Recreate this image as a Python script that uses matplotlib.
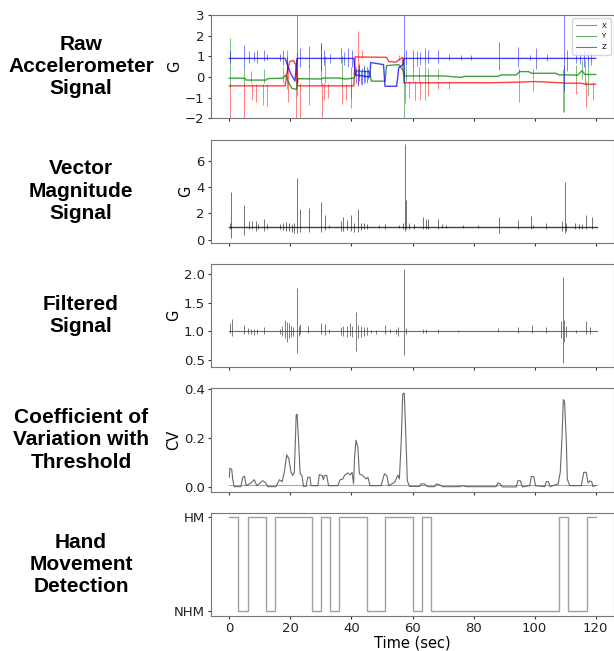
import numpy as np
from matplotlib import pyplot as plt

# ---- raw accelerometer: slow baseline knots (sec, G) per axis ----
X_T = [0, 18.3, 19.0, 19.8, 21.0, 21.8, 22.3, 40.8, 41.2, 51.5, 52.2, 54.5, 55.8, 56.8, 57.2,
       85, 95, 100, 108.5, 110.5, 115, 117, 120]
X_V = [-0.43, -0.43, 0.3, 0.75, 0.8, 0.6, -0.43, -0.43, 0.97, 0.95, 0.75, 0.72, 0.85, 0.95, -0.28,
       -0.28, -0.25, -0.22, -0.28, -0.3, -0.3, -0.35, -0.35]

Y_T = [0, 5, 5.5, 12, 12.5, 17.5, 18.5, 19.5, 20.5, 22, 22.5, 30, 31, 36, 38, 41, 41.5, 46, 46.5,
       51, 51.5, 55.5, 57, 57.3, 70, 76, 77, 88, 89, 94, 95, 98, 99, 107, 108, 112, 114, 115.5,
       116.5, 120]
Y_V = [-0.06, -0.06, -0.15, -0.15, -0.08, -0.06, 0.1, -0.3, -0.55, -0.6, -0.08, -0.1, -0.05, -0.05,
       -0.1, -0.05, 0.3, 0.25, -0.2, -0.2, 0.55, 0.6, 0.3, 0.05, 0.05, -0.02, 0.03, 0.03, 0.1, 0.1,
       0.26, 0.26, 0.18, 0.18, 0.1, 0.1, 0.08, 0.3, 0.12, 0.12]

Z_T = [0, 18.3, 19.0, 20.0, 21.5, 22.2, 40.8, 41.3, 46, 46.3, 50.5, 51, 54.8, 55.5, 56.9, 57.2, 120]
Z_V = [0.9, 0.9, 0.6, 0.2, -0.2, 0.9, 0.9, 0.1, 0.0, 0.7, 0.6, -0.45, -0.45, 0.45, 0.6, 0.9, 0.9]

# ---- raw accelerometer: spikes (time, low, high) ----
X_SPK_T = [0.2, 4.7, 7.4, 8.7, 11.1, 12.2, 19.2, 22.0, 23.3, 26.0, 30.3, 31.1, 32.3, 36.9, 38.3,
           39.9, 42.0, 43.5, 55.5, 57.7, 59.0, 60.7, 62.3, 64.0, 65.0, 68.3, 72.0, 95.0, 99.5,
           109.3, 113.5, 116.7, 119.1]
X_SPK_LO = [-2, -2, -1.1, -1.2, -1.35, -1.4, -1.2, -2, -2, -1.35, -2, -1.1, -1.0, -1.3, -1.1,
            -1.5, -0.43, 0.9, 0.8, -1.25, -1.0, -1.1, -1.1, -1.1, -0.9, -0.6, -0.6, -1.2, -0.7,
            -1.7, -0.8, -1.45, -1.1]
X_SPK_HI = [-0.3, -0.3, -0.35, -0.35, -0.35, -0.35, 0.5, 0.9, -0.3, -0.3, -0.3, -0.3, -0.35, -0.35,
            -0.35, -0.35, 2.24, 1.3, 1.05, -0.2, -0.2, -0.2, -0.2, -0.2, -0.2, -0.2, -0.2, -0.15,
            -0.15, 0.4, -0.2, -0.2, -0.25]

Y_SPK_T = [0.3, 4.7, 7.0, 11.5, 17.5, 18.8, 22.1, 26.0, 30.0, 31.5, 37.0, 39.9, 42.5, 44.0,
           57.3, 58.0, 60.0, 62.0, 64.0, 65.0, 68.3, 95.0, 99.5, 109.5, 113.5, 115.5, 116.5,
           117.5]
Y_SPK_LO = [-0.5, -0.4, -0.3, -0.3, -0.3, -0.6, -0.9, -0.3, -0.4, -0.3, -0.4, -1.0, 0.0, 0.0,
            -2.0, -0.2, -0.2, -0.2, -0.2, -0.2, -0.1, -0.1, -0.1, -1.7, -0.2, -0.1, -0.4, -0.9]
Y_SPK_HI = [1.87, 0.4, 0.3, 0.4, 0.5, 1.3, 1.2, 0.6, 1.63, 1.0, 1.0, 0.5, 0.7, 0.6,
            0.7, 0.55, 0.55, 0.5, 0.55, 0.45, 0.4, 0.45, 0.4, 0.6, 0.6, 0.82, 0.8, 0.5]

Z_SPK_T = [0.2, 4.7, 6.5, 8.0, 9.0, 11.5, 12.3, 16.5, 17.5, 19.0, 22.1, 23.3, 26.0, 30.0, 31.1,
           33.0, 36.5, 37.5, 39.0, 40.2, 41.5, 42.0, 42.5, 43.0, 43.5, 44.0, 44.5, 45.0, 45.5,
           57.2, 58.0, 60.0, 61.5, 62.5, 64.0, 65.0, 68.3, 72.0, 76.0, 79.0, 88.3, 94.5, 98.5,
           100.3, 104.0, 109.5, 110.5, 113.7, 115.0, 116.3, 117.5, 118.5]
Z_SPK_LO = [0.66, 0.4, 0.7, 0.75, 0.7, 0.75, 0.8, 0.75, 0.6, 0.2, -0.3, 0.5, 0.5, 0.3, 0.6,
            0.7, 0.7, 0.6, 0.5, 0.5, -0.3, -0.4, -0.2, -0.35, -0.4, -0.3, -0.25, -0.3, -0.1,
            -0.3, 0.6, 0.5, 0.55, 0.6, 0.6, 0.7, 0.7, 0.8, 0.8, 0.8, 0.35, 0.5, 0.8,
            0.4, 0.75, -0.7, 0.3, 0.7, 0.65, 0.5, 0.5, 0.6]
Z_SPK_HI = [1.3, 1.55, 1.25, 1.2, 1.3, 1.3, 1.1, 1.1, 1.3, 1.0, 3.0, 1.4, 1.5, 1.63, 1.3,
            1.1, 1.4, 1.2, 1.4, 1.3, 0.5, 0.4, 0.6, 0.3, 0.45, 0.5, 0.35, 0.5, 0.4,
            3.0, 1.3, 1.3, 1.25, 1.2, 1.4, 1.3, 1.3, 1.1, 1.05, 1.05, 1.7, 1.45, 1.05,
            1.4, 1.1, 3.0, 1.3, 1.3, 1.25, 1.3, 1.3, 1.2]

# ---- vector magnitude: spikes around 1 G ----
VM_T = [0.1, 0.5, 4.7, 6.5, 7.5, 8.7, 9.5, 11.5, 12.3, 16.5, 17.5, 18.5, 19.5, 20.5, 21.3, 22.1,
        23.3, 26.0, 30.0, 31.4, 32.5, 36.5, 37.1, 38.5, 39.9, 40.8, 42.0, 43.0, 44.0, 45.0, 49.0,
        51.0, 55.5, 56.8, 57.4, 57.9, 59.0, 60.5, 63.5, 64.3, 65.0, 68.3, 69.5, 71.0, 76.5, 81.5,
        88.2, 94.5, 98.9, 99.5, 103.8, 109.0, 109.8, 110.4, 113.3, 114.5, 115.5, 116.7, 118.8]
VM_LO = [0.8, 0.13, 0.4, 0.8, 0.8, 0.7, 0.8, 0.7, 0.8, 0.8, 0.75, 0.7, 0.7, 0.6, 0.5, 0.5,
         0.6, 0.6, 0.6, 0.75, 0.9, 0.7, 0.7, 0.75, 0.7, 0.6, 0.6, 0.75, 0.8, 0.85, 0.9,
         0.85, 0.9, 0.8, 0.7, 0.8, 0.8, 0.8, 0.8, 0.8, 0.8, 0.85, 0.9, 0.9, 0.9, 0.9,
         0.55, 0.8, 0.8, 0.9, 0.85, 0.7, 0.55, 0.7, 0.85, 0.85, 0.8, 0.8, 0.8]
VM_HI = [1.3, 3.6, 2.65, 1.4, 1.4, 1.4, 1.2, 1.6, 1.2, 1.2, 1.3, 1.35, 1.3, 1.2, 1.3, 4.7,
         2.35, 2.4, 2.9, 1.9, 1.1, 1.4, 1.7, 1.5, 1.85, 1.3, 2.35, 1.3, 1.25, 1.2, 1.1,
         1.2, 1.1, 1.3, 7.25, 3.0, 1.3, 1.2, 1.7, 1.55, 1.55, 1.55, 1.2, 1.15, 1.15, 1.1,
         1.75, 1.5, 1.8, 1.1, 1.25, 1.4, 4.4, 1.3, 1.3, 1.2, 1.2, 1.9, 1.7]

# ---- filtered signal: deviations around 1 G ----
FS_T = [0.1, 0.8, 4.7, 6.0, 7.0, 8.2, 9.0, 11.5, 16.5, 17.3, 18.2, 18.8, 19.5, 20.2, 21.0, 22.1,
        22.8, 23.3, 25.9, 29.9, 31.3, 32.5, 36.5, 37.3, 38.5, 39.5, 40.3, 41.5, 42.3, 43.0, 44.0,
        45.0, 46.5, 48.0, 51.0, 52.5, 54.5, 55.3, 57.3, 58.0, 63.5, 64.5, 68.3, 75.0, 88.0, 94.5,
        99.0, 103.8, 108.6, 109.2, 109.7, 110.3, 113.5, 116.7, 118.3]
FS_LO = [0.97, 0.93, 0.96, 0.96, 0.95, 0.94, 0.96, 0.95, 0.96, 0.92, 0.88, 0.82, 0.88, 0.9, 0.92,
         0.62, 0.93, 0.95, 0.97, 0.95, 0.94, 0.97, 0.94, 0.93, 0.9, 0.92, 0.9, 0.66, 0.88, 0.9,
         0.92, 0.94, 0.97, 0.96, 0.95, 0.97, 0.95, 0.93, 0.6, 0.96, 0.98, 0.98, 0.98, 0.99, 0.99,
         0.98, 0.97, 0.98, 0.88, 0.46, 0.82, 0.9, 0.98, 0.95, 0.96]
FS_HI = [1.15, 1.22, 1.12, 1.06, 1.05, 1.05, 1.05, 1.07, 1.05, 1.1, 1.2, 1.17, 1.15, 1.1, 1.08,
         1.75, 1.1, 1.13, 1.1, 1.15, 1.13, 1.04, 1.07, 1.1, 1.1, 1.15, 1.1, 1.33, 1.12, 1.1,
         1.08, 1.07, 1.03, 1.03, 1.12, 1.05, 1.05, 1.08, 2.09, 1.06, 1.04, 1.04, 1.05, 1.02, 1.06,
         1.08, 1.12, 1.07, 1.18, 1.95, 1.2, 1.1, 1.03, 1.18, 1.07]

# ---- coefficient of variation (sec, CV) ----
CV_T = [0, 0.2, 0.8, 1.1, 1.6, 3.8, 4.4, 5.0, 5.5, 7.1, 8.2, 9.0, 10.9, 11.8, 12.6, 15.3, 16.4,
        17.3, 18.0, 18.8, 19.5, 20.2, 20.8, 21.3, 21.9, 22.2, 22.7, 23.2, 23.8, 24.3, 25.1, 25.7,
        26.4, 26.8, 29.0, 29.5, 30.4, 30.8, 31.1, 31.9, 32.5, 35.5, 36.3, 37.2, 37.7, 38.8, 39.6,
        40.2, 40.7, 41.0, 41.5, 42.1, 42.6, 43.7, 44.8, 45.4, 46.1, 49.7, 50.8, 51.6, 52.2, 54.1,
        55.2, 55.7, 56.3, 56.8, 57.3, 57.7, 58.3, 59.0, 62.3, 62.8, 63.9, 65.0, 67.2, 67.8, 68.6,
        69.9, 75.4, 76.5, 77.6, 87.4, 88.0, 88.7, 89.4, 94.0, 94.5, 95.3, 96.0, 98.4, 98.9, 99.7,
        100.3, 103.3, 103.8, 104.5, 105.1, 107.7, 108.4, 109.0, 109.4, 109.8, 110.4, 110.7,
        111.5, 115.3, 116.1, 116.9, 117.5, 118.0, 118.7, 119.1, 120.0]
CV_V = [0.041, 0.078, 0.072, 0.034, 0.003, 0.003, 0.041, 0.045, 0.007, 0.018, 0.031, 0.007, 0.027,
        0.02, 0.003, 0.003, 0.031, 0.023, 0.061, 0.132, 0.116, 0.061, 0.048, 0.061, 0.293, 0.296,
        0.184, 0.055, 0.048, 0.004, 0.004, 0.041, 0.041, 0.007, 0.007, 0.052, 0.048, 0.031, 0.048,
        0.048, 0.007, 0.007, 0.031, 0.034, 0.048, 0.059, 0.05, 0.061, 0.014, 0.116, 0.191, 0.164,
        0.055, 0.048, 0.034, 0.041, 0.007, 0.007, 0.055, 0.048, 0.007, 0.02, 0.05, 0.034, 0.184,
        0.378, 0.382, 0.252, 0.027, 0.004, 0.004, 0.014, 0.014, 0.003, 0.003, 0.014, 0.012, 0.003,
        0.003, 0.007, 0.003, 0.003, 0.018, 0.015, 0.002, 0.002, 0.027, 0.027, 0.002, 0.007, 0.044,
        0.044, 0.007, 0.003, 0.023, 0.023, 0.003, 0.014, 0.061, 0.212, 0.355, 0.348, 0.184, 0.034,
        0.007, 0.007, 0.061, 0.061, 0.018, 0.026, 0.023, 0.004, 0.007]
CV_THRESHOLD = 0.011

# ---- detection per 3 s window: 1 = HM, 0 = NHM ----
WIN_SEC = 3
DETECT = [1, 0, 1, 1, 0, 1, 1, 1, 1, 0, 1, 0, 1, 1, 1, 0, 0, 1, 1, 1,
          0, 1, 0, 0, 0, 0, 0, 0, 0, 0, 0, 0, 0, 0, 0, 0, 1, 0, 0, 1]

ROW_TITLES = ['Raw\nAccelerometer\nSignal', 'Vector\nMagnitude\nSignal', 'Filtered\nSignal',
              'Coefficient of\nVariation with\nThreshold', 'Hand\nMovement\nDetection']

fig = plt.figure(figsize=(6.14, 6.51), dpi=100)
W, H = 614, 651
axes = []
for top_px in [15, 139.5, 264, 388.3, 512.7]:
    ax = fig.add_axes([211 / W, 1 - (top_px + 103.3) / H, 403 / W, 103.3 / H],
                      sharex=axes[0] if axes else None)
    axes.append(ax)

# raw signal
ax = axes[0]
for t, v, st, slo, shi, c, name in [
        (X_T, X_V, X_SPK_T, X_SPK_LO, X_SPK_HI, 'red', 'X'),
        (Y_T, Y_V, Y_SPK_T, Y_SPK_LO, Y_SPK_HI, 'green', 'Y'),
        (Z_T, Z_V, Z_SPK_T, Z_SPK_LO, Z_SPK_HI, 'blue', 'Z')]:
    ax.plot(t, v, color=c, lw=1.0, alpha=0.75, label=name)
    ax.vlines(st, slo, shi, colors=c, lw=0.7, alpha=0.5)
ax.set_ylim(-2, 3)
ax.set_yticks([-2, -1, 0, 1, 2, 3])
leg = ax.legend(loc='upper right', fontsize=5, handlelength=2.8, borderpad=0.6, labelspacing=0.7)
for line in leg.get_lines():
    line.set_linewidth(0.8)
    line.set_alpha(0.6)
ax.set_ylabel('G', fontsize=10.5, labelpad=2)

# vector magnitude
ax = axes[1]
ax.plot([0, 120.3], [1.0, 1.0], color='black', lw=1.0, alpha=0.75)
ax.vlines(VM_T, VM_LO, VM_HI, colors='black', lw=0.7, alpha=0.55)
ax.set_yticks([0, 2, 4, 6])
ax.set_ylabel('G', fontsize=10.5, labelpad=2)

# filtered signal
ax = axes[2]
ax.plot([0, 120.3], [1.0, 1.0], color='#444444', lw=0.8, alpha=0.8)
ax.vlines(FS_T, FS_LO, FS_HI, colors='#444444', lw=0.7, alpha=0.7)
ax.set_yticks([0.5, 1.0, 1.5, 2.0])
ax.set_ylabel('G', fontsize=10.5, labelpad=2)

# coefficient of variation with threshold
ax = axes[3]
ax.plot(CV_T, CV_V, color='#444444', lw=0.8, alpha=0.8)
ax.plot([0, 120.3], [CV_THRESHOLD, CV_THRESHOLD], color='red', lw=0.6, alpha=0.6)
ax.set_ylabel('CV', fontsize=10.5, labelpad=2)

# detection
ax = axes[4]
win_t = np.arange(len(DETECT) + 1) * WIN_SEC
ax.step(win_t, DETECT + [DETECT[-1]], where='post', color='#a0a0a0', lw=1.0)
ax.set_yticks([0, 1])
ax.set_yticklabels(['NHM', 'HM'])
ax.set_xlabel('Time (sec)', fontsize=10.5, labelpad=0)

axes[0].set_xlim(-6, 126)
axes[0].set_xticks([0, 20, 40, 60, 80, 100, 120])
for i, ax in enumerate(axes):
    ax.tick_params(labelsize=9.5, length=2.5, width=0.8, pad=2,
                   colors='#333333', labelcolor='#222222')
    for sp in ax.spines.values():
        sp.set_color('#777777')
        sp.set_linewidth(0.8)
    if i < 4:
        ax.tick_params(labelbottom=False)
    pos = ax.get_position()
    fig.text(81 / W, pos.y0 + pos.height / 2, ROW_TITLES[i], ha='center', va='center',
             fontsize=15, fontweight='bold', family=['Liberation Sans', 'DejaVu Sans'],
             linespacing=1.22)

fig.savefig('out.png', dpi=100)
